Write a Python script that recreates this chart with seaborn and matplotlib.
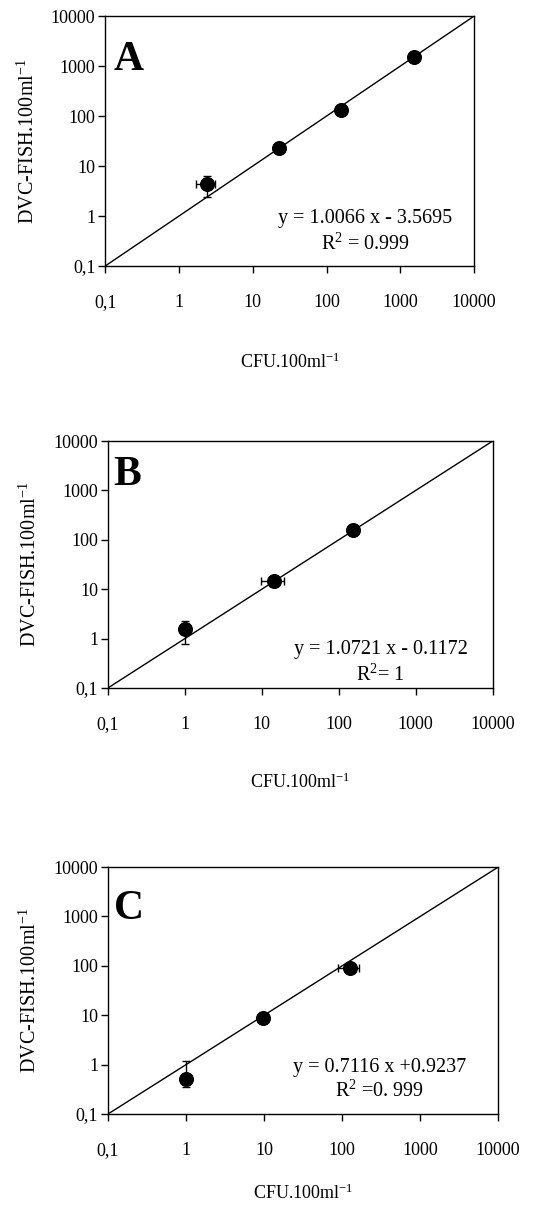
import numpy as np
import pandas as pd
import matplotlib
matplotlib.use("Agg")
import matplotlib.pyplot as plt
import seaborn as sns

# values (CFU vs DVC-FISH, per 100 ml)
panels = ["A", "B", "C"]

cfu_a = [2.4, 23, 155, 1540]
fish_a = [4.3, 23, 135, 1500]
fish_err_lo_a = [1.9, 2, 12, 120]
fish_err_hi_a = [2.1, 2, 12, 120]
cfu_err_a = [0.7, 2, 10, 100]

cfu_b = [1.0, 14.5, 153]
fish_b = [1.55, 14.8, 155]
fish_err_lo_b = [0.77, 1.5, 30]
fish_err_hi_b = [0.75, 1.5, 30]
cfu_err_b = [0.05, 4.7, 12]

cfu_c = [1.0, 9.6, 127]
fish_c = [0.51, 8.7, 91]
fish_err_lo_c = [0.15, 0.8, 8]
fish_err_hi_c = [0.65, 0.8, 8]
cfu_err_c = [0.03, 0.5, 38]

equations = ["y = 1.0066 x - 3.5695", "y = 1.0721 x - 0.1172", "y = 0.7116 x +0.9237"]
r2_texts = ["R$^2$ = 0.999", "R$^2$= 1", "R$^2$ =0. 999"]

ticks = [0.1, 1, 10, 100, 1000, 10000]
tick_labels = ["0,1", "1", "10", "100", "1000", "10000"]
diag = [0.1, 10000]

sns.set_style("ticks")
plt.rcParams["font.family"] = ["Liberation Serif", "DejaVu Serif"]
plt.rcParams["mathtext.fontset"] = "custom"
plt.rcParams["mathtext.rm"] = "Liberation Serif"
plt.rcParams["mathtext.it"] = "Liberation Serif:italic"
plt.rcParams["text.color"] = "black"
plt.rcParams["axes.labelcolor"] = "black"

fig = plt.figure(figsize=(5.45, 12.07), dpi=100)
boxes = [
    [0.193, 0.7796, 0.677, 0.2071],
    [0.198, 0.430, 0.706, 0.2046],
    [0.198, 0.077, 0.716, 0.2046],
]
data = [
    (cfu_a, fish_a, fish_err_lo_a, fish_err_hi_a, cfu_err_a),
    (cfu_b, fish_b, fish_err_lo_b, fish_err_hi_b, cfu_err_b),
    (cfu_c, fish_c, fish_err_lo_c, fish_err_hi_c, cfu_err_c),
]
eq_pos = [(0.705, 0.19, 0.088), (0.709, 0.154, 0.053), (0.697, 0.19, 0.093)]
letter_pos = [(0.022, 0.784), (0.013, 0.82), (0.015, 0.79)]
xlabel_pad = [30, 29, 18]

for i, (box, (x, y, ylo, yhi, xe)) in enumerate(zip(boxes, data)):
    ax = fig.add_axes(box)
    sns.lineplot(x=diag, y=diag, ax=ax, color="black", linewidth=1)
    ax.errorbar(x, y, yerr=[ylo, yhi], xerr=xe, fmt="none", ecolor="black",
                elinewidth=1, capsize=3, capthick=1)
    df = pd.DataFrame({"cfu": x, "fish": y})
    sns.scatterplot(data=df, x="cfu", y="fish", ax=ax, color="black", s=100,
                    edgecolor="black", zorder=5)
    ax.set_xscale("log")
    ax.set_yscale("log")
    ax.set_xlim(0.1, 10000)
    ax.set_ylim(0.1, 10000)
    ax.set_xticks(ticks)
    ax.set_xticklabels(tick_labels)
    ax.set_yticks(ticks)
    ax.set_yticklabels(tick_labels)
    ax.minorticks_off()
    ax.tick_params(axis="x", length=5, width=1, pad=15, labelsize=13, colors="black")
    ax.tick_params(axis="y", length=5, width=1, pad=2, labelsize=13, colors="black")
    for sp in ax.spines.values():
        sp.set_visible(True)
        sp.set_color("black")
        sp.set_linewidth(1)
    ax.set_xlabel("CFU.100ml$^{-1}$", fontsize=13, labelpad=xlabel_pad[i])
    ax.set_ylabel("DVC-FISH.100ml$^{-1}$", fontsize=14.5, labelpad=9)
    ex, ey1, ey2 = eq_pos[i]
    ax.text(ex, ey1, equations[i], transform=ax.transAxes, ha="center",
            va="center", fontsize=14.5)
    ax.text(ex, ey2, r2_texts[i], transform=ax.transAxes, ha="center",
            va="center", fontsize=14.5)
    lx, ly = letter_pos[i]
    ax.text(lx, ly, panels[i], transform=ax.transAxes, ha="left",
            va="baseline", fontsize=30, fontweight="bold")

fig.savefig("out.png", dpi=100)
